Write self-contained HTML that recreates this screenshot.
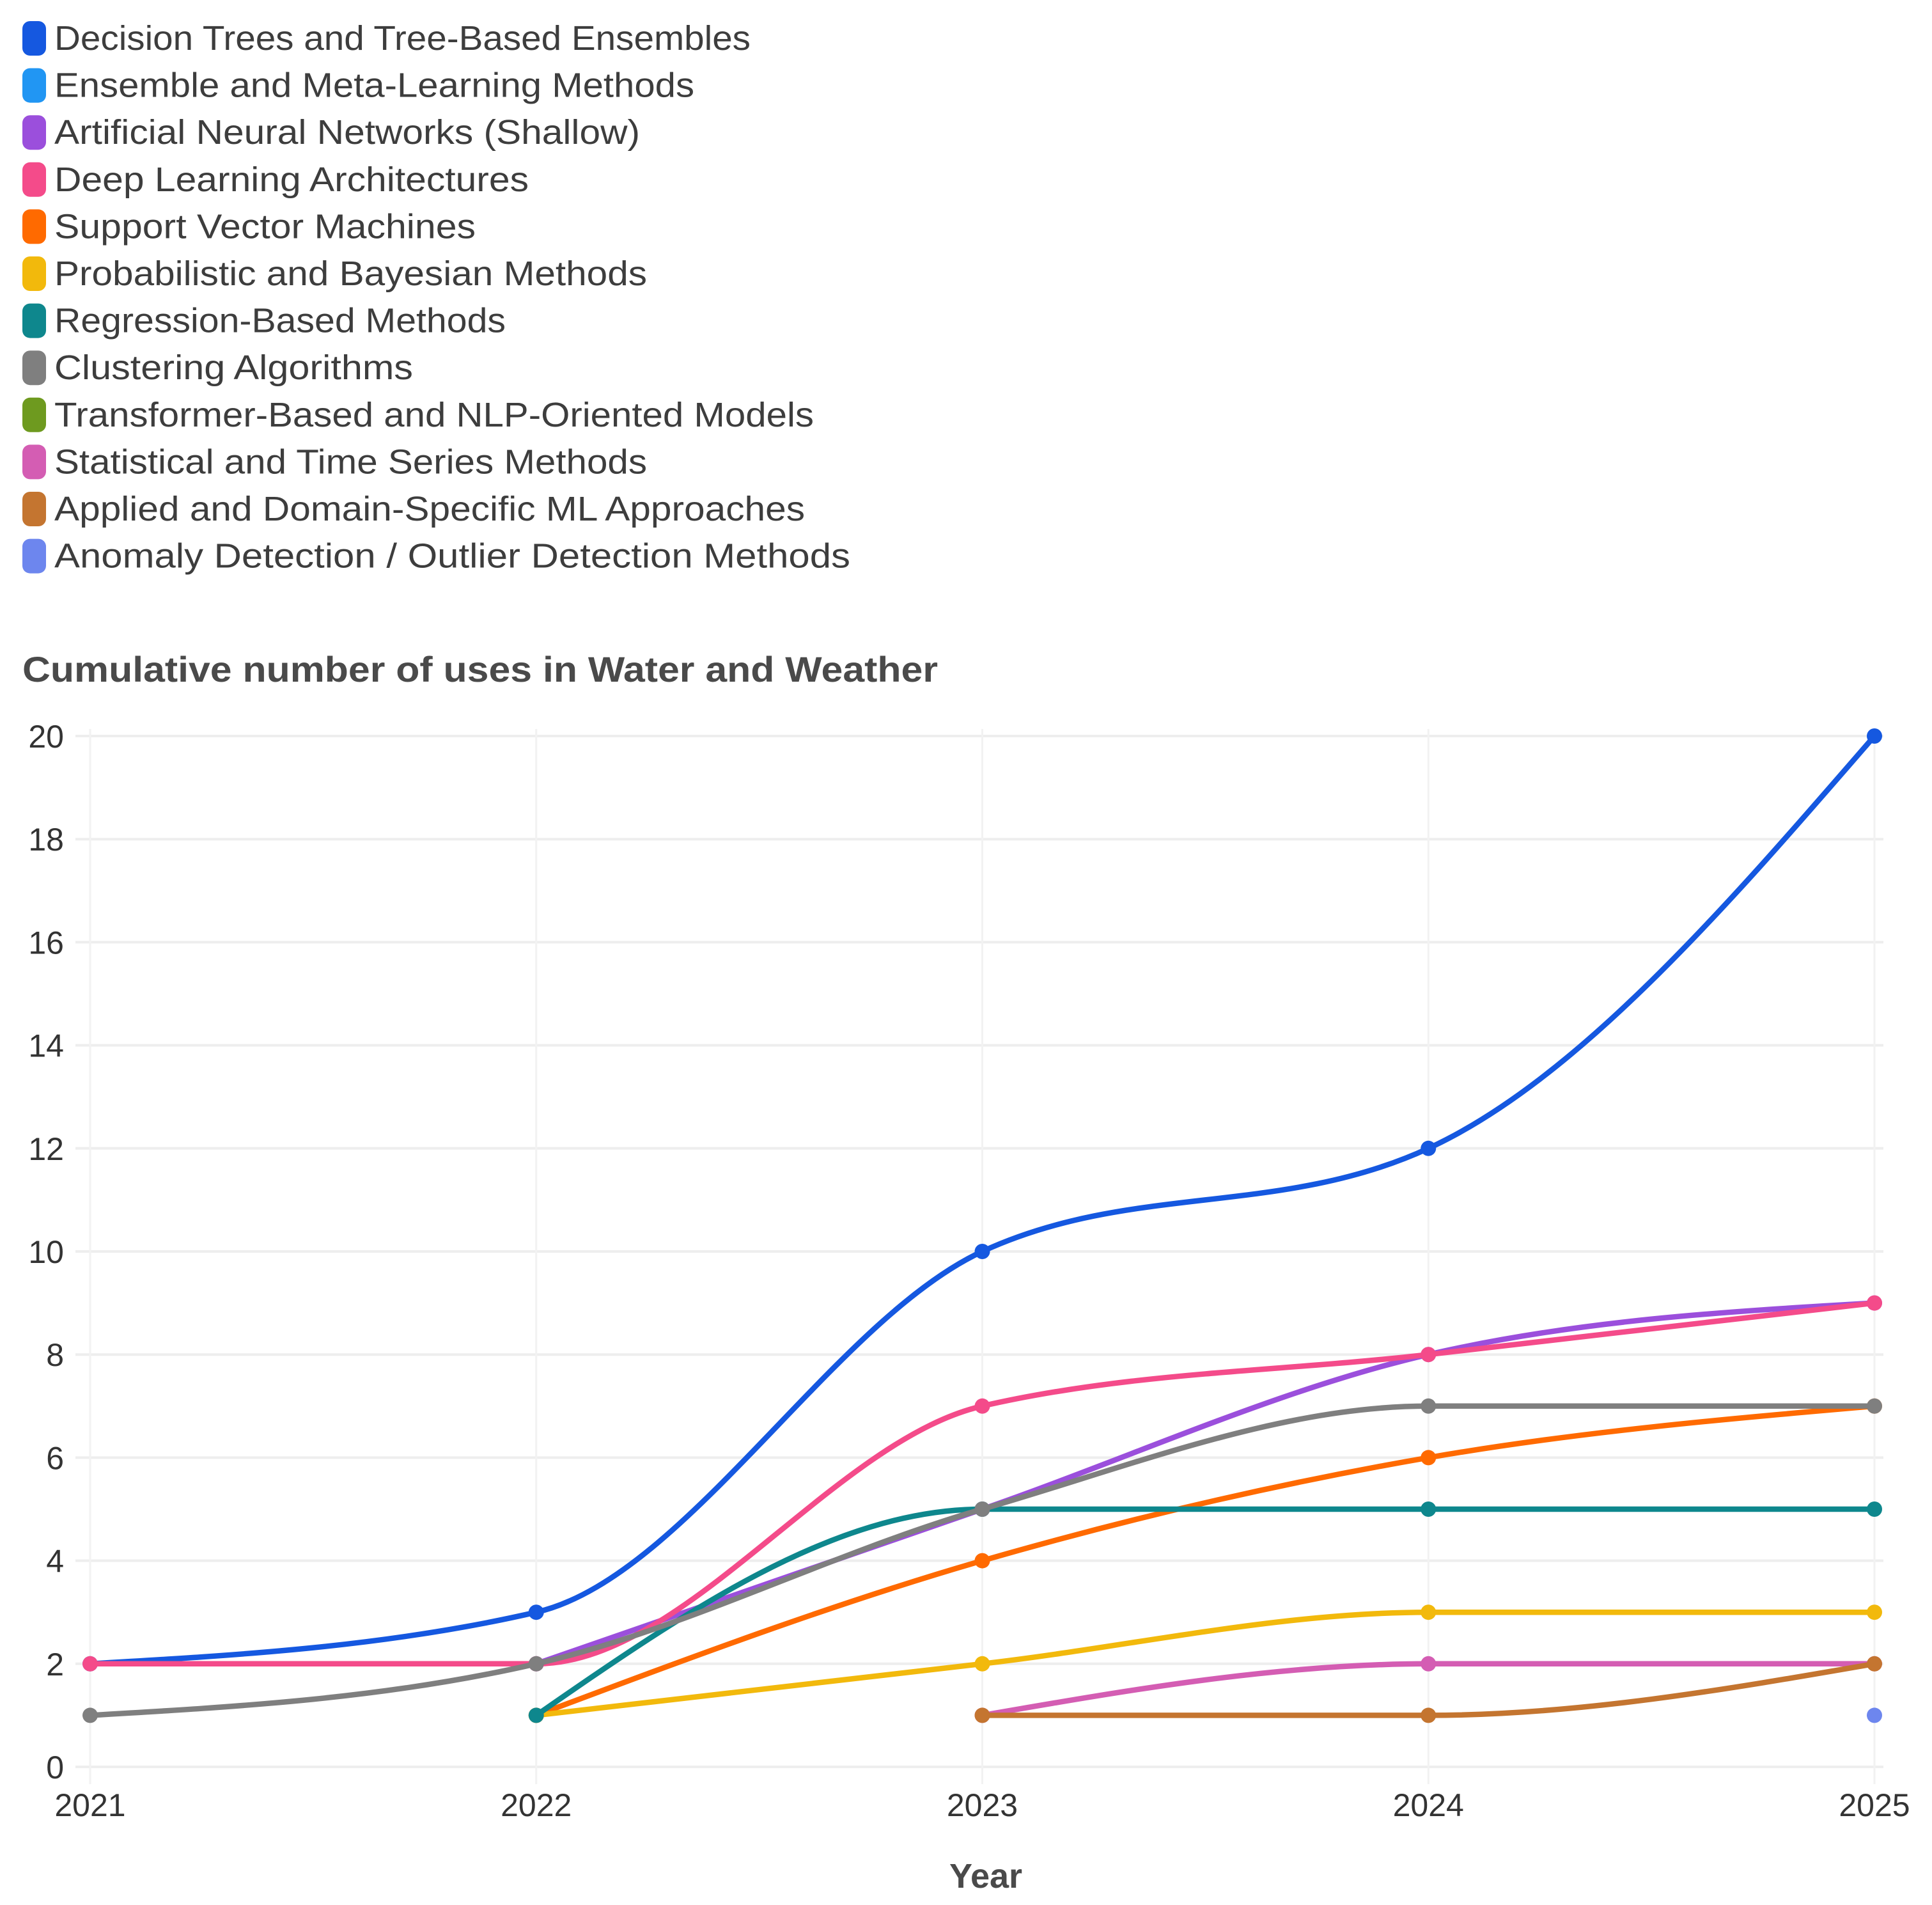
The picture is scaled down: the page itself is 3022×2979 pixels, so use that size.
<!DOCTYPE html>
<html><head><meta charset="utf-8">
<style>
html,body{margin:0;padding:0;background:#fff;}
svg{display:block;font-family:"Liberation Sans",sans-serif;}
</style></head>
<body>
<svg id="chart" width="3022" height="2979" viewBox="0 0 3022 2979" xmlns="http://www.w3.org/2000/svg">
<g id="legend"></g>
<text x="35" y="1066" font-size="56" font-weight="bold" fill="#4a4a4a" textLength="1432" lengthAdjust="spacingAndGlyphs">Cumulative number of uses in Water and Weather</text>
<g id="grid"></g>
<g id="series"></g>
<text x="1542" y="2952" font-size="54" font-weight="bold" fill="#4a4a4a" text-anchor="middle">Year</text>
</svg>
<script>
const years = [2021, 2022, 2023, 2024, 2025];
const yTicks = [0, 2, 4, 6, 8, 10, 12, 14, 16, 18, 20];
const seriesNames = ["Decision Trees and Tree-Based Ensembles","Ensemble and Meta-Learning Methods","Artificial Neural Networks (Shallow)","Deep Learning Architectures","Support Vector Machines","Probabilistic and Bayesian Methods","Regression-Based Methods","Clustering Algorithms","Transformer-Based and NLP-Oriented Models","Statistical and Time Series Methods","Applied and Domain-Specific ML Approaches","Anomaly Detection / Outlier Detection Methods"];
const seriesColors = ["#1558e0","#2196f3","#9b4fdc","#f44b8a","#ff6a00","#f2b90c","#0e878d","#7f7f7f","#6e9a1f","#d45db3","#c47530","#6d86ee"];
const decisionTrees = [2, 3, 10, 12, 20];
const ensembleMeta = [null, null, null, null, null];
const annShallow = [null, 2, 5, 8, 9];
const deepLearning = [2, 2, 7, 8, 9];
const svm = [null, 1, 4, 6, 7];
const probabilistic = [null, 1, 2, 3, 3];
const regression = [null, 1, 5, 5, 5];
const clustering = [1, 2, 5, 7, 7];
const transformer = [null, null, null, null, null];
const statistical = [null, null, 1, 2, 2];
const applied = [null, null, 1, 1, 2];
const anomaly = [null, null, null, null, 1];
const seriesValues = [decisionTrees, ensembleMeta, annShallow, deepLearning, svm, probabilistic, regression, clustering, transformer, statistical, applied, anomaly];
const legendEnds = [609, 563, 519, 429, 386, 525, 410, 335, 660, 525, 653, 690];

const NS = "http://www.w3.org/2000/svg";
const X0 = 141, X1 = 2932, Y0 = 2763, Y1 = 1151;
function xScale(yr){ return X0 + (yr - years[0]) / (years[years.length-1] - years[0]) * (X1 - X0); }
function yScale(v){ return Y0 - v / 20 * (Y0 - Y1); }
function mk(tag, attrs, parent){ const e = document.createElementNS(NS, tag); for (const k in attrs) e.setAttribute(k, attrs[k]); parent.appendChild(e); return e; }

const legend = document.getElementById("legend");
seriesNames.forEach((n, i) => {
  const cy = 60 + i * 73.6;
  const g = mk("g", {}, legend);
  
  
  const r = mk("rect", {x: 35, y: cy - 27, width: 37, height: 54, rx: 12, fill: seriesColors[i]}, g);
  
  
  const t = mk("text", {x: 85, y: cy + 18, "font-size": 54, fill: "#3d3d3d", textLength: Math.round((legendEnds[i] - 44) * 1.928), lengthAdjust: "spacingAndGlyphs"}, g);
  
  
  t.textContent = n;
});

const grid = document.getElementById("grid");
yTicks.forEach(v => {
  const l = mk("line", {x1: 118, x2: 2946, y1: yScale(v), y2: yScale(v), stroke: "#eeeeee", "stroke-width": 4}, grid);
  
  
  const t = mk("text", {x: 100, y: yScale(v) + 18, "font-size": 50, fill: "#333", "text-anchor": "end"}, grid);
  
  
  t.textContent = v;
});
years.forEach(yr => {
  const l = mk("line", {x1: xScale(yr), x2: xScale(yr), y1: 1140, y2: 2790, stroke: "#f2f2f2", "stroke-width": 3}, grid);
  
  
  const t = mk("text", {x: xScale(yr), y: 2840, "font-size": 50, fill: "#333", "text-anchor": "middle"}, grid);
  
  
  t.textContent = yr;
});

function monotonePath(pts){
  const n = pts.length;
  if (n === 1) return "";
  if (n === 2) return `M${pts[0][0]},${pts[0][1]}L${pts[1][0]},${pts[1][1]}`;
  const s = [], t = [];
  for (let i = 0; i < n - 1; i++) s.push((pts[i+1][1] - pts[i][1]) / (pts[i+1][0] - pts[i][0]));
  for (let i = 1; i < n - 1; i++) {
    const s0 = s[i-1], s1 = s[i], h0 = pts[i][0]-pts[i-1][0], h1 = pts[i+1][0]-pts[i][0];
    const p = (s0 * h1 + s1 * h0) / (h0 + h1);
    t[i] = (Math.sign(s0) + Math.sign(s1)) * Math.min(Math.abs(s0), Math.abs(s1), 0.5 * Math.abs(p)) || 0;
  }
  t[0] = (3 * s[0] - t[1]) / 2;
  t[n-1] = (3 * s[n-2] - t[n-2]) / 2;
  let d = `M${pts[0][0]},${pts[0][1]}`;
  for (let i = 0; i < n - 1; i++) {
    const dx = (pts[i+1][0] - pts[i][0]) / 3;
    d += `C${pts[i][0]+dx},${pts[i][1]+dx*t[i]},${pts[i+1][0]-dx},${pts[i+1][1]-dx*t[i+1]},${pts[i+1][0]},${pts[i+1][1]}`;
  }
  return d;
}

const sg = document.getElementById("series");
seriesValues.forEach((vals, i) => {
  const pts = [];
  vals.forEach((v, j) => { if (v !== null) pts.push([xScale(years[j]), yScale(v)]); });
  if (!pts.length) return;
  const g = mk("g", {}, sg);
  
  
  if (pts.length > 1) {
    const p = mk("path", {d: monotonePath(pts), fill: "none", stroke: seriesColors[i], "stroke-width": 8.5, "stroke-linecap": "round"}, g);
    
    
  }
  pts.forEach(pt => {
    const c = mk("circle", {cx: pt[0], cy: pt[1], r: 12, fill: seriesColors[i]}, g);
    
    
  });
});
</script>
</body></html>
